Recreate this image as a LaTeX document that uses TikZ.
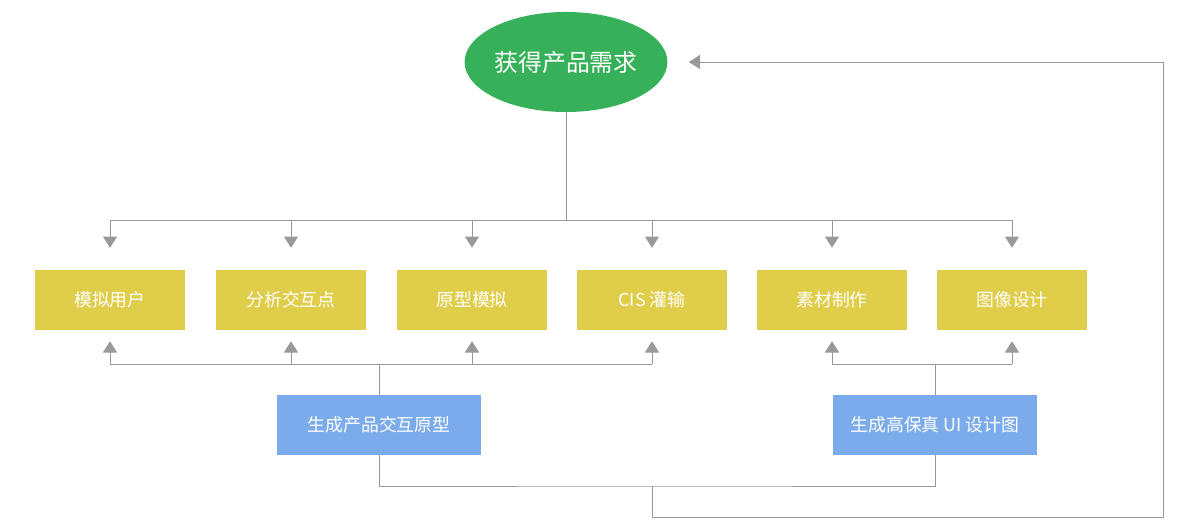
\documentclass[tikz,border=0pt]{standalone}
\usepackage{fontspec}
\setmainfont{Noto Sans CJK SC}
\usepackage{tikz}
\usetikzlibrary{arrows.meta,shapes.geometric,positioning,calc}
\definecolor{pmgreen}{RGB}{55,177,89}
\definecolor{pmyellow}{RGB}{224,206,74}
\definecolor{pmblue}{RGB}{123,171,235}
\definecolor{pmgray}{RGB}{153,153,153}
\tikzstyle{goal} = [ellipse, minimum width=5cm, minimum height=2.5cm, inner sep=0pt, fill=pmgreen, text=white, font=\fontsize{17}{20}\selectfont]
\tikzstyle{task} = [rectangle, minimum width=3.75cm, minimum height=1.5cm, text centered, fill=pmyellow, text=white, font=\fontsize{12.7}{15}\selectfont]
\tikzstyle{output} = [rectangle, minimum width=5.1cm, minimum height=1.5cm, text centered, fill=pmblue, text=white, font=\fontsize{12.7}{15}\selectfont]
\tikzstyle{link} = [line width=0.7pt, color=pmgray]
\tikzstyle{arrow} = [line width=0.7pt, -{Triangle[width=10pt,length=8pt]}, color=pmgray]

\begin{document}
\begin{tikzpicture}[x=0.025cm, y=-0.025cm]
\useasboundingbox (0,0) rectangle (1180,530);
% Requirement
\node[goal] (req) at (566,62) {获得产品需求};

% Tasks
\node[task] (t1) at (110,300) {模拟用户};
\node[task] (t2) at (291,300) {分析交互点};
\node[task] (t3) at (472,300) {原型模拟};
\node[task] (t4) at (652,300) {CIS 灌输};
\node[task] (t5) at (832,300) {素材制作};
\node[task] (t6) at (1012,300) {图像设计};

% Outputs
\node[output] (o1) at (379,425) {生成产品交互原型};
\node[output] (o2) at (935,425) {生成高保真 UI 设计图};

% Split into tasks
\coordinate (top) at (566,220);
\draw[link] (req) -- (top);
\draw[link] (t1 |- top) -- (t6 |- top);
\foreach \t in {t1,t2,t3,t4,t5,t6}
  \draw[arrow, shorten >=15.6pt] (\t |- top) -- (\t.north);

% Prototype feeds
\coordinate (left) at (382,364);
\draw[link] (o1.north) -- (o1.north |- left);
\draw[link] (t1.south |- left) -- (t4.south |- left);
\foreach \t in {t1,t2,t3,t4}
  \draw[arrow, shorten >=7.8pt] (\t.south |- left) -- (\t.south);

% UI design feeds
\coordinate (right) at (933,364);
\draw[link] (o2.north) -- (o2.north |- right);
\draw[link] (t5.south |- right) -- (t6.south |- right);
\foreach \t in {t5,t6}
  \draw[arrow, shorten >=7.8pt] (\t.south |- right) -- (\t.south);

% Loop back
\coordinate (join) at (652,486);
\coordinate (loop) at (1163,517);
\draw[link] (o1.south) |- (join) -| (o2.south);
\draw[arrow, shorten >=15pt] (join) |- (loop) |- (req.east);
\end{tikzpicture}
\end{document}
